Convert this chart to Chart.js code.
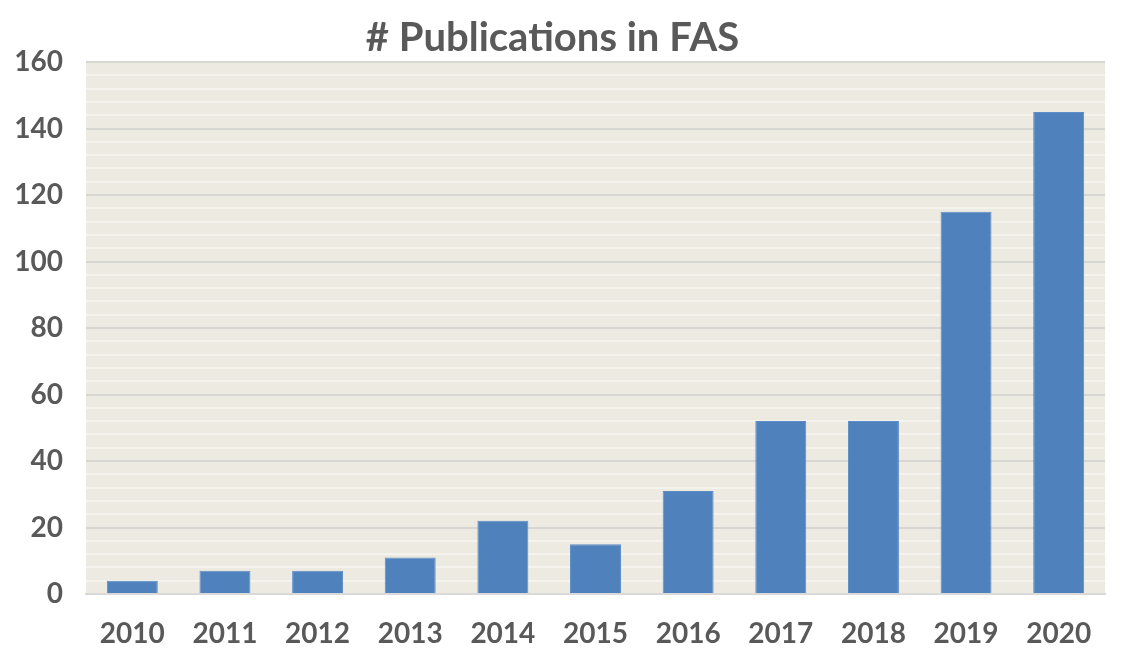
<!DOCTYPE html>
<html>
<head>
<meta charset="utf-8">
<script src="https://cdn.jsdelivr.net/npm/chart.js@4"></script>
<style>
  html, body { margin: 0; padding: 0; background: #fff; }
  #wrap { width: 1128px; height: 668px; }
</style>
</head>
<body>
<div id="wrap"><canvas id="chart" width="1128" height="668"></canvas></div>
<script>
const years = ['2010', '2011', '2012', '2013', '2014', '2015', '2016', '2017', '2018', '2019', '2020'];
const publications = [4, 7, 7, 11, 22, 15, 31, 52, 52, 115, 145];
const yTicks = [0, 20, 40, 60, 80, 100, 120, 140, 160];

// fill the plot area with the beige Excel-style background
const plotBg = {
    id: 'plotBg',
    beforeDraw(chart) {
        const { ctx, chartArea: a } = chart;
        ctx.save();
        ctx.fillStyle = '#ECEAE1';
        ctx.fillRect(a.left, a.top, a.right - a.left, a.bottom - a.top);
        ctx.restore();
    }
};

document.addEventListener('DOMContentLoaded', () => {
    const ctx = document.getElementById('chart').getContext('2d');
    new Chart(ctx, {
        type: 'bar',
        data: {
            labels: years,
            datasets: [{
                data: publications,
                backgroundColor: '#4F81BD',
                borderColor: '#5B8CC7',
                borderWidth: 1,
                barPercentage: 0.55,
                categoryPercentage: 1.0
            }]
        },
        options: {
            responsive: false,
            animation: false,
            devicePixelRatio: 1,
            layout: { padding: { left: 0, right: 23, top: 0, bottom: 0 } },
            plugins: {
                legend: { display: false },
                tooltip: { enabled: false },
                title: {
                    display: true,
                    text: '# Publications in FAS',
                    color: '#595959',
                    font: { family: 'Lato', size: 40, weight: 'bold' },
                    padding: { top: 14, bottom: 0 }
                }
            },
            scales: {
                x: {
                    grid: { display: false, drawTicks: false },
                    border: { color: '#D9D9D9', width: 2 },
                    afterFit(scale) { scale.height = 74; },
                    ticks: {
                        color: '#595959',
                        font: { family: 'Lato', size: 28, weight: 'bold' },
                        padding: 23
                    }
                },
                y: {
                    min: 0,
                    max: 160,
                    afterBuildTicks(scale) {
                        // minor lines every 4, labels only on the named ticks
                        const t = [];
                        for (let v = 0; v <= 160; v += 4) t.push({ value: v });
                        scale.ticks = t;
                    },
                    afterFit(scale) { scale.width = 86; },
                    grid: {
                        color: c => yTicks.includes(c.tick.value) ? '#D6D6D3' : '#F4F3EE',
                        lineWidth: 2,
                        drawTicks: false
                    },
                    border: { display: false },
                    ticks: {
                        autoSkip: false,
                        color: '#595959',
                        font: { family: 'Lato', size: 28, weight: 'bold' },
                        padding: 23,
                        callback: v => yTicks.includes(v) ? String(v) : ''
                    }
                }
            }
        },
        plugins: [plotBg]
    });
});
</script>
</body>
</html>
